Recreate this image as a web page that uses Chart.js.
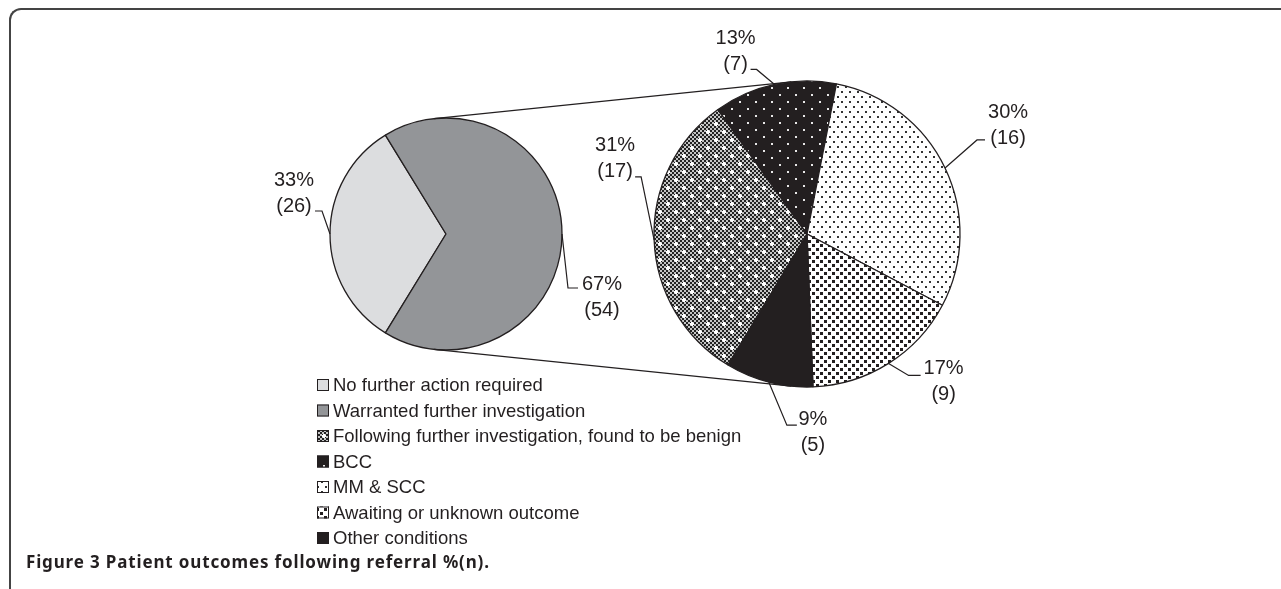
<!DOCTYPE html>
<html>
<head>
<meta charset="utf-8">
<script src="https://cdn.jsdelivr.net/npm/chart.js@4.4.1/dist/chart.umd.min.js"></script>
<style>
  body { margin: 0; background: #fff; width: 1281px; height: 589px; overflow: hidden; position: relative; }
  canvas { position: absolute; left: 0; top: 0; }
  #frame { position: absolute; left: 9px; top: 8px; width: 1400px; height: 700px;
           border-left: 2px solid #444; border-top: 2px solid #444; border-top-left-radius: 12px; }
  #caption { position: absolute; left: 26px; top: 550px; font: bold 17px "Noto Sans"; letter-spacing: 0.85px;
             color: #231f20; white-space: nowrap; }
</style>
</head>
<body>
<div id="frame"></div>
<canvas id="outerPie" width="1281" height="589"></canvas>
<canvas id="innerPie" width="1281" height="589"></canvas>
<div id="caption">Figure 3 Patient outcomes following referral %(n).</div>
<script>
// all referred patients
var outerLabels = ['No further action required', 'Warranted further investigation'];
var outerCounts = [26, 54];
var outerPct = [33, 67];

// breakdown of those that warranted further investigation
var innerLabels = ['Following further investigation, found to be benign', 'BCC', 'MM & SCC',
                   'Awaiting or unknown outcome', 'Other conditions'];
var innerCounts = [17, 7, 16, 9, 5];
var innerPct = [31, 13, 30, 17, 9];

var INK = '#231f20';

function makePattern(w, h, draw) {
  var c = document.createElement('canvas');
  c.width = w; c.height = h;
  var g = c.getContext('2d');
  draw(g);
  return g.createPattern(c, 'repeat');
}

// fine checker with light crosses (benign)
var benignFill = makePattern(16, 16, function (g) {
  g.fillStyle = '#c4c4c4'; g.fillRect(0, 0, 16, 16);
  g.fillStyle = '#222';
  for (var x = 0; x < 16; x += 2)
    for (var y = 0; y < 16; y += 2)
      if (((x + y) / 2) % 2 === 0) g.fillRect(x, y, 2, 2);
  g.fillStyle = '#fff';
  [[3, 3], [11, 11]].forEach(function (p) {
    g.fillRect(p[0], p[1] - 1, 2, 4);
    g.fillRect(p[0] - 1, p[1], 4, 2);
  });
});
// black with white dots (BCC)
var bccFill = makePattern(16, 14, function (g) {
  g.fillStyle = INK; g.fillRect(0, 0, 16, 14);
  g.fillStyle = '#e8e8e8';
  g.fillRect(3, 3, 2, 2); g.fillRect(11, 10, 2, 2);
});
// white with black dots (MM & SCC)
var mmFill = makePattern(8, 10, function (g) {
  g.fillStyle = '#fff'; g.fillRect(0, 0, 8, 10);
  g.fillStyle = '#333';
  g.fillRect(1, 1, 2, 2); g.fillRect(5, 6, 2, 2);
});
// white with black small squares (awaiting)
var awaitFill = makePattern(8, 8, function (g) {
  g.fillStyle = '#fff'; g.fillRect(0, 0, 8, 8);
  g.fillStyle = INK;
  g.fillRect(0, 0, 3, 3); g.fillRect(4, 4, 3, 3);
});

var outerColors = ['#dcdddf', '#939598'];
var innerColors = [benignFill, bccFill, mmFill, awaitFill, INK];

// leader layout per slice: [elbow dx, elbow dy, horizontal run, text dx, text dy]
var outerLeaders = [[-8, -23, -7, -21, -31], [6, 54, 10, 24, -4]];
var innerLeaders = [[-13, -63, -6, -20, -31], [-18, -15, -6, -15, -31], [32, -28, 8, 23, -27],
                    [20, 12, 12, 23, -7], [18, 43, 10, 16, -6]];

function leaders(pct, counts, layout) {
  return {
    id: 'leaders',
    afterDatasetsDraw: function (chart) {
      var ctx = chart.ctx;
      ctx.save();
      ctx.strokeStyle = INK;
      ctx.lineWidth = 1.2;
      ctx.fillStyle = INK;
      ctx.font = '20px "Liberation Sans"';
      ctx.textAlign = 'center';
      ctx.textBaseline = 'middle';
      chart.getDatasetMeta(0).data.forEach(function (arc, i) {
        var p = arc.getProps(['x', 'y', 'startAngle', 'endAngle', 'outerRadius'], true);
        var mid = (p.startAngle + p.endAngle) / 2;
        var ax = p.x + Math.cos(mid) * p.outerRadius;
        var ay = p.y + Math.sin(mid) * p.outerRadius;
        var L = layout[i];
        var ex = ax + L[0], ey = ay + L[1], hx = ex + L[2];
        ctx.beginPath();
        ctx.moveTo(ax, ay); ctx.lineTo(ex, ey); ctx.lineTo(hx, ey);
        ctx.stroke();
        ctx.fillText(pct[i] + '%', hx + L[3], ey + L[4]);
        ctx.fillText('(' + counts[i] + ')', hx + L[3], ey + L[4] + 26);
      });
      ctx.restore();
    }
  };
}

var legendPlugin = {
  id: 'sideLegend',
  afterDraw: function (chart) {
    var ctx = chart.ctx;
    var names = outerLabels.concat(innerLabels);
    var fills = outerColors.concat(innerColors);
    ctx.save();
    ctx.font = '18.5px "Liberation Sans"';
    ctx.textBaseline = 'middle';
    names.forEach(function (name, i) {
      var y = 385 + i * 25.5;
      ctx.fillStyle = fills[i];
      ctx.fillRect(317, y - 6, 12, 12);
      ctx.strokeStyle = INK;
      ctx.lineWidth = 1;
      ctx.strokeRect(317.5, y - 5.5, 11, 11);
      ctx.fillStyle = INK;
      ctx.fillText(name, 333, y + 1);
    });
    ctx.restore();
  }
};

var outerChart;

// lines joining the two pies (outer tangents of both circles)
var connectorPlugin = {
  id: 'connectors',
  beforeDatasetsDraw: function (chart) {
    var a = outerChart.getDatasetMeta(0).data[0];
    var b = chart.getDatasetMeta(0).data[0];
    var dx = b.x - a.x, dy = b.y - a.y, d = Math.hypot(dx, dy);
    var base = Math.atan2(dy, dx);
    var th = Math.acos((a.outerRadius - b.outerRadius) / d);
    var ctx = chart.ctx;
    ctx.save();
    ctx.strokeStyle = INK;
    ctx.lineWidth = 1.2;
    [base - th, base + th].forEach(function (ang) {
      var nx = Math.cos(ang), ny = Math.sin(ang);
      ctx.beginPath();
      ctx.moveTo(a.x + nx * a.outerRadius, a.y + ny * a.outerRadius);
      ctx.lineTo(b.x + nx * b.outerRadius, b.y + ny * b.outerRadius);
      ctx.stroke();
    });
    ctx.restore();
  }
};

var common = {
  responsive: false,
  animation: false,
  events: [],
  plugins: { legend: { display: false }, tooltip: { enabled: false } }
};

outerChart = new Chart(document.getElementById('outerPie'), {
  type: 'pie',
  data: {
    labels: outerLabels,
    datasets: [{ data: outerCounts, backgroundColor: outerColors, borderColor: INK, borderWidth: 1.3 }]
  },
  options: Object.assign({}, common, {
    rotation: 211.5,
    radius: 116,
    layout: { padding: { left: 330, right: 719, top: 118, bottom: 239 } }
  }),
  plugins: [leaders(outerPct, outerCounts, outerLeaders), legendPlugin]
});

new Chart(document.getElementById('innerPie'), {
  type: 'pie',
  data: {
    labels: innerLabels,
    datasets: [{ data: innerCounts, backgroundColor: innerColors, borderColor: INK, borderWidth: 1.3 }]
  },
  options: Object.assign({}, common, {
    rotation: 211.1,
    radius: 153,
    layout: { padding: { left: 654, right: 321, top: 81, bottom: 202 } }
  }),
  plugins: [connectorPlugin, leaders(innerPct, innerCounts, innerLeaders)]
});
</script>
</body>
</html>
